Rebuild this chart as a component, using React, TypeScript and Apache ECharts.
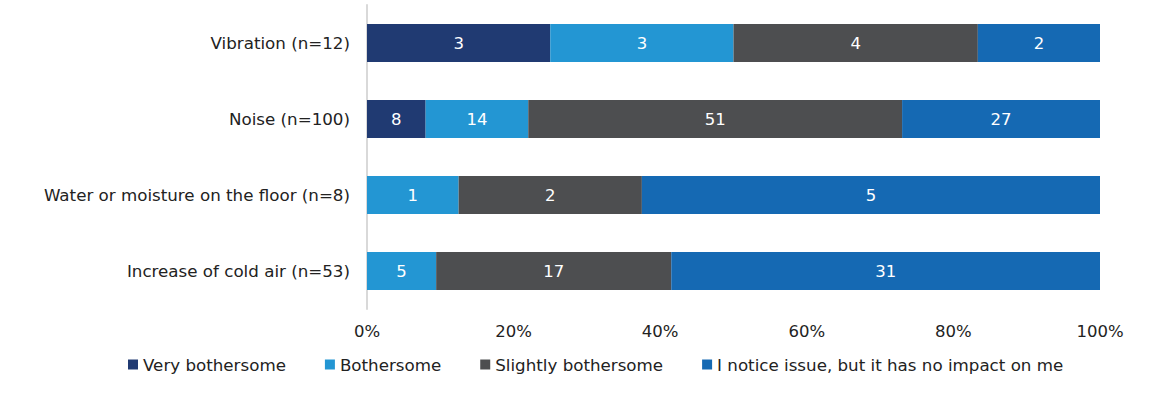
import React, { useEffect, useRef } from "react";
import * as echarts from "echarts";

const categories = [
  "Increase of cold air (n=53)",
  "Water or moisture on the floor (n=8)",
  "Noise (n=100)",
  "Vibration (n=12)",
];
const seriesNames = [
  "Very bothersome",
  "Bothersome",
  "Slightly bothersome",
  "I notice issue, but it has no impact on me",
];
const veryBothersome = [0, 0, 8, 3];
const bothersome = [5, 1, 14, 3];
const slightlyBothersome = [17, 2, 51, 4];
const noImpact = [31, 5, 27, 2];
const colors = ["#203A72", "#2396D3", "#4D4E50", "#1569B3"];
const xTicks = [0, 20, 40, 60, 80, 100];

export default function App() {
  const ref = useRef<HTMLDivElement>(null);
  useEffect(() => {
    document.body.style.margin = "0";
    const chart = echarts.init(ref.current!, null, { renderer: "svg" });
    const counts = [veryBothersome, bothersome, slightlyBothersome, noImpact];
    const totals = categories.map((_, i) => counts.reduce((s, a) => s + a[i], 0));
    const font = "'DejaVu Sans', Verdana, sans-serif";
    chart.setOption({
      animation: false,
      textStyle: { fontFamily: font },
      grid: { left: 367, right: 69, top: 5, height: 304 },
      xAxis: {
        type: "value",
        min: xTicks[0],
        max: xTicks[xTicks.length - 1],
        interval: 20,
        axisLine: { show: false },
        axisTick: { show: false },
        splitLine: { show: false },
        axisLabel: { formatter: "{value}%", fontSize: 16.5, color: "#222", margin: 14, fontFamily: font },
      },
      yAxis: {
        type: "category",
        data: categories,
        axisLine: { show: true, lineStyle: { color: "#D9D9D9", width: 2 } },
        axisTick: { show: false },
        axisLabel: { fontSize: 16.7, color: "#222", margin: 17, fontFamily: font },
      },
      legend: {
        bottom: 24,
        left: 123,
        itemWidth: 10,
        itemHeight: 10,
        itemGap: 39,
        icon: "rect",
        textStyle: { fontSize: 16.7, color: "#222", fontFamily: font },
        data: seriesNames,
      },
      series: seriesNames.map((name, s) => ({
        name,
        type: "bar",
        stack: "total",
        barWidth: 38,
        itemStyle: { color: colors[s] },
        label: {
          show: true,
          position: "inside",
          color: "#fff",
          fontSize: 16.5,
          fontFamily: font,
          formatter: (p: any) => (counts[s][p.dataIndex] > 0 ? String(counts[s][p.dataIndex]) : ""),
        },
        data: counts[s].map((v, i) => (v / totals[i]) * 100),
      })),
    });
    return () => chart.dispose();
  }, []);
  return <div ref={ref} style={{ width: 1169, height: 402 }} />;
}
